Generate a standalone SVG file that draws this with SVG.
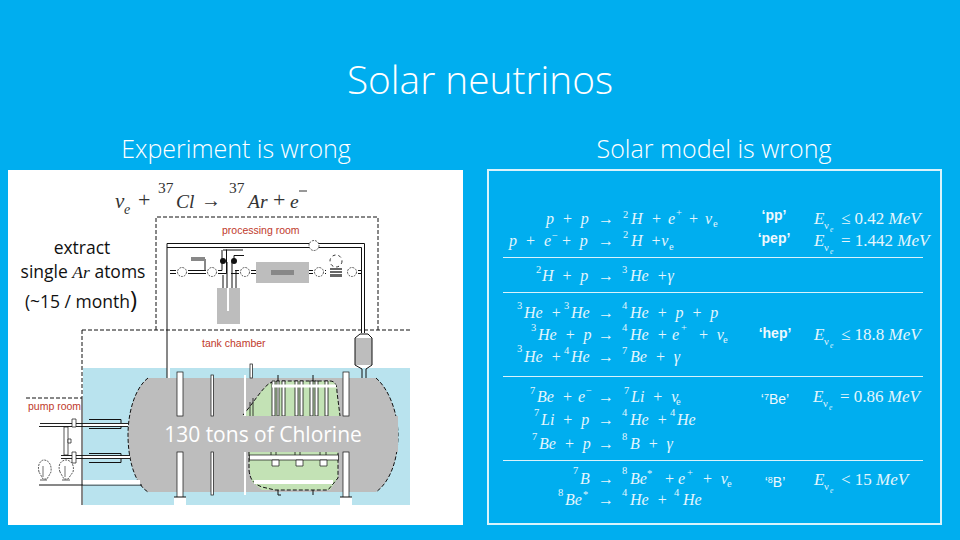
<svg xmlns="http://www.w3.org/2000/svg" width="960" height="540" viewBox="0 0 960 540">
<style>
text{font-family:"Liberation Sans",sans-serif}
text.h{font-family:"Open Sans","Noto Sans",sans-serif;fill:#fff;font-weight:300}
.e text{font-family:"Liberation Serif",serif;font-style:italic;fill:#e4f6fd;font-size:16px;white-space:pre}
.e text.s{font-size:10.5px;font-style:normal}
.e text.t{font-size:7.5px}
.e text.u{font-size:17px;font-style:normal}
.e text.u tspan{font-style:italic}
.q text{font-family:"Liberation Serif",serif;fill:#333;font-size:19.500px}
.q text.i{font-style:italic}
.q text.n{font-size:15.500px}
text.lab{font-weight:700;fill:#eef8fd;font-size:14px;text-anchor:middle}
text.lab2{font-weight:400;fill:#eef8fd;font-size:14px;text-anchor:middle}
text.r{fill:#c0392b;font-size:10.500px}
text.blk{font-family:"Open Sans","Noto Sans",sans-serif;fill:#111;font-size:17.500px;text-anchor:middle}
.d{fill:none;stroke:#111;stroke-width:1;stroke-dasharray:4 2}
.k{fill:none;stroke:#111;stroke-width:1}
.ln{stroke:#d8f3fc;stroke-width:1.2}
.v{fill:#fff;stroke:#333;stroke-width:.8;stroke-dasharray:2 1}
.b{fill:#fff;stroke:#111;stroke-width:.7}
</style>
<rect width="960" height="540" fill="#00aeef"/>
<text class="h" x="480" y="94" font-size="38.800" text-anchor="middle">Solar neutrinos</text>
<text class="h" x="236" y="158" font-size="25" text-anchor="middle">Experiment is wrong</text>
<text class="h" x="714" y="158" font-size="25" text-anchor="middle">Solar model is wrong</text>

<g id="left-panel">
<rect x="8" y="170" width="455" height="355" fill="#fff"/>
<rect x="83" y="368" width="327" height="137" fill="#b9e3ee"/>
<rect x="167" y="365" width="3" height="13" fill="#fff"/>
<path d="M148 378H376C390 390 398 415 398 435C398 460 390 482 376 492H148C135 484 128 460 128 435C128 412 135 388 148 378Z" fill="#bdbdbd"/>
<path d="M148 378C135 388 128 412 128 435C128 460 135 484 148 492M376 378C390 390 398 415 398 435C398 460 390 482 376 492" fill="none" stroke="#111" stroke-dasharray="4 2"/>
<path d="M270 383L277 381H330C335 381 337 385 337 392L340 416H243C252 405 262 388 270 383Z" fill="#c3e2b5"/>
<path d="M249 452H338V478L330 490H262L252 482C250 475 249 465 249 452Z" fill="#c3e2b5"/>
<path d="M270 383L277 381H330C335 381 337 385 337 392L340 416M243 415C252 405 262 388 270 383M249 452V470C250 480 254 484 262 487L275 490H328L338 478V452" class="d"/>
<g fill="#fff" stroke="#111" stroke-width=".8">
<path d="M272 381h3v35h-3zM277 381h2v35h-2zM282 381h3v35h-3zM295 381h3v35h-3zM300 381h3v35h-3zM310 381h3v35h-3zM315 381h3v35h-3zM325 381h3v35h-3z"/>
<path d="M250 402V416M253 398V416"/>
</g>
<path d="M272 386H336" stroke="#fff" stroke-width="3"/>
<rect x="130" y="416" width="268" height="36" fill="#bdbdbd"/>
<path d="M271 452V459M276 452V459M295 452V459M300 452V459M320 452V459M326 452V459" stroke="#111" stroke-width=".8"/>
<rect x="249.500" y="455" width="89" height="5" class="b"/>
<path d="M272 460h7v6h-7zM296 460h7v6h-7zM320 460h7v6h-7z" class="b"/>
<path d="M254 482H333" stroke="#fff" stroke-width="4"/>
<rect x="177" y="372" width="6" height="44" class="b"/>
<rect x="177" y="452" width="6" height="47" class="b"/>
<rect x="174" y="497" width="12" height="8" fill="#fff"/>
<path d="M174 497H186" class="k"/>
<rect x="343" y="372" width="6" height="44" class="b"/>
<rect x="343" y="452" width="6" height="47" class="b"/>
<rect x="340" y="497" width="12" height="8" fill="#fff"/>
<path d="M340 497H352" class="k"/>
<rect x="211" y="375" width="2.500" height="41" class="b"/>
<rect x="211" y="452" width="2.500" height="43" class="b"/>
<rect x="244" y="375" width="2" height="41" fill="#fff"/>
<rect x="244" y="452" width="2" height="43" fill="#fff"/>
<rect x="250" y="364" width="2.500" height="14" class="b"/>
<path d="M278 375V381M313 375V381M278 490V495H281M313 490V495" class="k"/>
<path d="M40 423.500H128M39 426.500H128M61 455.500H130M61 458.500H130" stroke="#222" stroke-width="1"/>
<path d="M40 425H128M62 457H130" stroke="#fff" stroke-width="2"/>
<path d="M89 419.500H121M89 428.500H121M89 453.500H121M89 462.500H121" class="k"/>
<path d="M121 419.500V423M121 426V428.500M121 453.500V456M121 459V462.500" class="k"/>
<rect x="64" y="427" width="4" height="28" class="b"/>
<path d="M72 419h4v8h-4zM72 452h4v11h-4zM68 439h3v4h-3z" class="b"/>
<path d="M39 485H142" class="k"/>
<rect x="83" y="480" width="57" height="4.500" fill="#fff"/>
<g fill="none" stroke="#333" stroke-width=".8" stroke-dasharray="2 1"><path d="M39 472C37 464 41 460 44 460C48 460 52 464 51 472L47 479H43Z"/><path d="M60 472C57 464 62 460 66 460C70 460 75 464 73 472L68 479H64Z"/></g>
<path d="M43 466V477M65 466V477" stroke="#333" stroke-width=".7"/>
<path d="M40 480H47M62 480H70" stroke="#333" stroke-width=".8"/>
<rect x="355" y="338" width="17" height="27" fill="#bdbdbd"/>
<path d="M355 338L360 334H368L372 338V365M355 338V365M355 365L362 369M372 365L366 369" class="k" stroke-width=".8"/>
<path d="M362 369V378M366 369V378" class="k"/>
<path d="M82 330H410M82 330V398M26 398H82M156 330V217H378V330" class="d"/>
<path d="M82 398V505" class="k"/>
<path d="M167 243.500V378" class="k"/>
<path d="M167 243.500H364.500V333M167 247.500H361.500V333" class="k"/>
<path d="M170 270.500H176M170 273.500H176M188 270.500H206M188 273.500H206M218 270.500H222V250M218 273.500H226.500V249.500M231 273.500H239M235 270.500H239M251 270.500H256M251 273.500H256M309 270.500H313M309 273.500H313M325 270.500H346M325 273.500H346M358 270.500H362M358 273.500H362" class="k"/>
<path d="M223 288V275M227 288V262M232 288V262M236 288V271" class="k"/>
<path d="M223 250H243M234 255.500H244M234 255.500V262M205 259V270" class="k"/>
<rect x="191" y="257" width="14" height="4" fill="#888"/>
<rect x="217" y="288" width="23" height="36" fill="#bdbdbd"/>
<rect x="227" y="288" width="2" height="23" fill="#fff"/>
<circle cx="223" cy="261" r="3" fill="#111"/><circle cx="234" cy="261" r="3" fill="#111"/>
<rect x="256" y="262" width="53" height="21" fill="#bdbdbd"/>
<rect x="271" y="270" width="23" height="5" fill="#888"/>
<rect x="330" y="268" width="12" height="9" fill="#666"/>
<path d="M326 270.500H346M326 273.500H346" stroke="#fff" stroke-width="1"/>
<circle cx="182" cy="272" r="4.500" class="v"/><circle cx="212" cy="272" r="4.500" class="v"/><circle cx="245" cy="272" r="4.500" class="v"/><circle cx="319" cy="272" r="4.500" class="v"/><circle cx="352" cy="272" r="4.500" class="v"/><circle cx="314" cy="245.500" r="5" class="v"/>
<circle cx="336" cy="261" r="6" fill="none" stroke="#333" stroke-dasharray="3 3"/>
<text class="r" x="222" y="234">processing room</text>
<text class="r" x="202" y="347">tank chamber</text>
<text class="r" x="28" y="410">pump room</text>
</g>

<g id="cl-equation" class="q">
<text class="i" x="115" y="208" style="font-size:21px">ν</text>
<text class="i" x="124" y="214" style="font-size:14px">e</text>
<text x="138" y="207" style="font-size:22px">+</text>
<text class="n" x="158" y="193">37</text>
<text class="i" x="176" y="208">Cl</text>
<text x="201" y="207" style="font-size:20px">→</text>
<text class="n" x="229" y="193">37</text>
<text class="i" x="248" y="208">Ar</text>
<text x="273" y="207" style="font-size:22px">+</text>
<text class="i" x="290" y="208">e</text>
<path d="M299 191H307" stroke="#333"/>
</g>

<g id="extract-label">
<text class="blk" x="82" y="254">extract</text>
<text class="blk" x="83" y="278">single <tspan style="font-family:'Liberation Serif';font-style:italic">Ar</tspan> atoms</text>
<text class="blk" x="81" y="308">(~15 / month<tspan style="font-size:24px">)</tspan></text>
</g>
<text id="chlorine-label" class="h" style="font-weight:400" x="263" y="442" font-size="21" text-anchor="middle">130 tons of Chlorine</text>

<g id="right-panel">
<rect x="488" y="170" width="453" height="354" fill="none" stroke="#d8f3fc" stroke-width="2"/>
<path class="ln" d="M503 257.500H923M503 292.500H923M503 376.500H923M503 460.500H923"/>
<g class="e">
<text x="546" y="224">p  +  p</text><text x="598" y="224">→</text><text x="623" y="218" class="s">2</text><text x="631" y="224">H</text><text x="651" y="224">+</text><text x="668" y="224">e</text><text x="676" y="216" class="s">+</text><text x="688" y="224">+</text><text x="705" y="224">ν</text><text x="713" y="227" class="s">e</text>
<text x="509" y="246">p  +</text><text x="544" y="246">e</text><text x="552" y="239" class="s">−</text><text x="561" y="246">+  p</text><text x="598" y="246">→</text><text x="623" y="238" class="s">2</text><text x="631" y="246">H  +ν</text><text x="669" y="250" class="s">e</text>
<text x="536" y="273" class="s">2</text><text x="542" y="281">H  +  p</text><text x="598" y="281">→</text><text x="622" y="273" class="s">3</text><text x="630" y="281">He  +γ</text>
<text x="517" y="309" class="s">3</text><text x="524" y="318">He  +</text><text x="564" y="309" class="s">3</text><text x="571" y="318">He</text><text x="598" y="318">→</text><text x="622" y="309" class="s">4</text><text x="630" y="318">He  +  p  +  p</text>
<text x="531" y="331" class="s">3</text><text x="538" y="340">He  +  p</text><text x="598" y="340">→</text><text x="622" y="331" class="s">4</text><text x="630" y="340">He  +</text><text x="672" y="340">e</text><text x="681" y="331" class="s">+</text><text x="698" y="340">+  ν</text><text x="723" y="343" class="s">e</text>
<text x="517" y="352" class="s">3</text><text x="524" y="362">He  +</text><text x="564" y="354" class="s">4</text><text x="571" y="362">He</text><text x="598" y="362">→</text><text x="622" y="354" class="s">7</text><text x="630" y="362">Be  +  γ</text>
<text x="530" y="394" class="s">7</text><text x="537" y="402">Be  +</text><text x="578" y="402">e</text><text x="586" y="394" class="s">−</text><text x="598" y="402">→</text><text x="624" y="394" class="s">7</text><text x="631" y="402">Li  +  ν</text><text x="676" y="405" class="s">e</text>
<text x="534" y="416" class="s">7</text><text x="541" y="425">Li  +  p</text><text x="598" y="425">→</text><text x="622" y="416" class="s">4</text><text x="630" y="425">He  +</text><text x="670" y="416" class="s">4</text><text x="677" y="425">He</text>
<text x="532" y="440" class="s">7</text><text x="539" y="449">Be  +  p</text><text x="598" y="449">→</text><text x="622" y="440" class="s">8</text><text x="630" y="449">B  +  γ</text>
<text x="573" y="474" class="s">7</text><text x="580" y="484">B</text><text x="598" y="484">→</text><text x="622" y="474" class="s">8</text><text x="630" y="484">Be</text><text x="647" y="477" class="s">*</text><text x="664" y="484">+</text><text x="678" y="484">e</text><text x="687" y="476" class="s">+</text><text x="702" y="484">+  ν</text><text x="727" y="487" class="s">e</text>
<text x="558" y="496" class="s">8</text><text x="565" y="505">Be</text><text x="583" y="498" class="s">*</text><text x="598" y="505">→</text><text x="622" y="496" class="s">4</text><text x="630" y="505">He  +</text><text x="674" y="496" class="s">4</text><text x="683" y="505">He</text>
<text x="814" y="224" class="u"><tspan>E</tspan></text><text x="824" y="229" class="s">ν</text><text x="830" y="232" class="t">e</text><text x="841" y="224" class="u">≤ 0.42 <tspan>MeV</tspan></text>
<text x="814" y="246" class="u"><tspan>E</tspan></text><text x="824" y="251" class="s">ν</text><text x="830" y="254" class="t">e</text><text x="841" y="246" class="u">= 1.442 <tspan>MeV</tspan></text>
<text x="814" y="340" class="u"><tspan>E</tspan></text><text x="824" y="345" class="s">ν</text><text x="830" y="348" class="t">e</text><text x="841" y="340" class="u">≤ 18.8 <tspan>MeV</tspan></text>
<text x="813" y="402" class="u"><tspan>E</tspan></text><text x="823" y="407" class="s">ν</text><text x="829" y="410" class="t">e</text><text x="840" y="402" class="u">= 0.86 <tspan>MeV</tspan></text>
<text x="814" y="485" class="u"><tspan>E</tspan></text><text x="824" y="490" class="s">ν</text><text x="830" y="493" class="t">e</text><text x="841" y="485" class="u">&lt; 15 <tspan>MeV</tspan></text>
</g>
<text class="lab" x="774" y="220">‘pp’</text>
<text class="lab" x="774" y="243">‘pep’</text>
<text class="lab" x="775" y="338">‘hep’</text>
<text class="lab2" x="775" y="404">‘<tspan style="font-size:9px" dy="-4">7</tspan><tspan dy="4">Be’</tspan></text>
<text class="lab2" x="775" y="487">‘<tspan style="font-size:9px" dy="-4">8</tspan><tspan dy="4">B’</tspan></text>
</g>
</svg>
